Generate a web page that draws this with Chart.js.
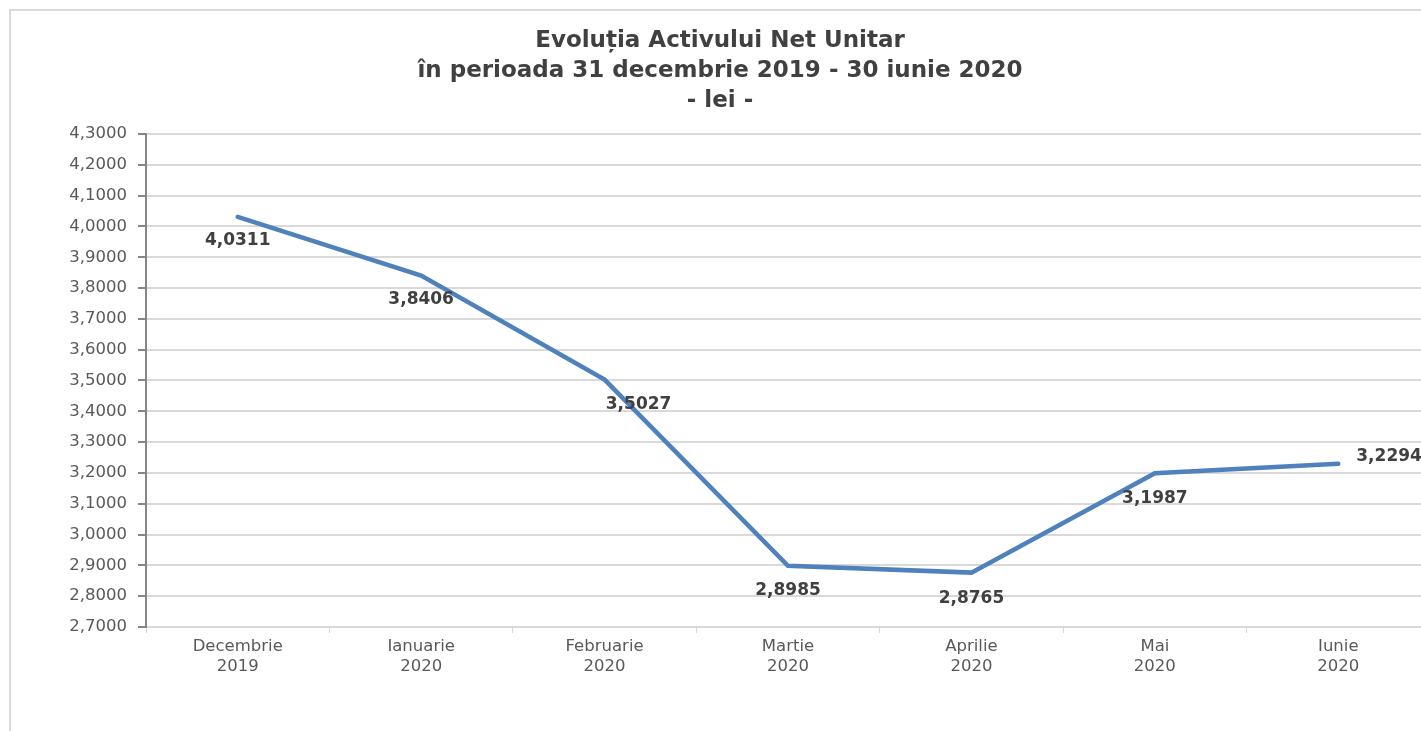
<!DOCTYPE html>
<html>
<head>
<meta charset="utf-8">
<script src="https://cdn.jsdelivr.net/npm/chart.js@4.4.1/dist/chart.umd.min.js"></script>
<style>
  html, body { margin: 0; padding: 0; background: #fff; overflow: hidden; }
  #wrap { position: relative; width: 1421px; height: 731px; overflow: hidden; }
  #frame { position: absolute; left: 9px; top: 9px; width: 1440px; height: 760px; border: 2px solid #d9d9d9; box-sizing: border-box; }
  canvas { position: absolute; left: 0; top: 0; }
</style>
</head>
<body>
<div id="wrap">
  <div id="frame"></div>
  <canvas id="myChart" width="1435" height="731"></canvas>
</div>
<script>
const categories = [
  ["Decembrie", "2019"],
  ["Ianuarie", "2020"],
  ["Februarie", "2020"],
  ["Martie", "2020"],
  ["Aprilie", "2020"],
  ["Mai", "2020"],
  ["Iunie", "2020"]
];
const activNet = [4.0311, 3.8406, 3.5027, 2.8985, 2.8765, 3.1987, 3.2294];
const titleLines = ["Evoluția Activului Net Unitar", "în perioada 31 decembrie 2019 - 30 iunie 2020", "- lei -"];
const yMin = 2.7, yMax = 4.3, yStep = 0.1;

// label placement per point: [dx, dy, align]
const labelOffsets = [
  [0, 24, 'center'],
  [0, 24, 'center'],
  [34, 25, 'center'],
  [0, 25, 'center'],
  [0, 26, 'center'],
  [0, 25, 'center'],
  [18, -7, 'left']
];

const fmt = v => v.toFixed(4).replace('.', ',');

const valueLabels = {
  id: 'valueLabels',
  afterDatasetsDraw(chart) {
    const ctx = chart.ctx;
    const meta = chart.getDatasetMeta(0);
    ctx.save();
    ctx.font = 'bold 17px "DejaVu Sans"';
    ctx.fillStyle = '#404040';
    ctx.textBaseline = 'middle';
    meta.data.forEach((pt, i) => {
      const o = labelOffsets[i];
      ctx.textAlign = o[2];
      ctx.fillText(fmt(activNet[i]), pt.x + o[0], pt.y + o[1]);
    });
    ctx.restore();
  }
};

const ctx = document.getElementById('myChart').getContext('2d');
const myChart = new Chart(ctx, {
  type: 'line',
  data: {
    labels: categories,
    datasets: [{
      data: activNet,
      borderColor: '#4f81bd',
      backgroundColor: '#4f81bd',
      borderWidth: 4.5,
      pointRadius: 0,
      tension: 0,
      borderCapStyle: 'round'
    }]
  },
  options: {
    responsive: false,
    animation: false,
    devicePixelRatio: 1,
    layout: { padding: { left: 10, right: 5, top: 0, bottom: 0 } },
    plugins: {
      legend: { display: false },
      tooltip: { enabled: false },
      title: {
        display: true,
        text: titleLines,
        color: '#404040',
        font: { family: '"DejaVu Sans"', size: 23, weight: 'bold', lineHeight: 1.304 },
        padding: { top: 26, bottom: 18 }
      }
    },
    scales: {
      x: {
        offset: true,
        grid: {
          offset: true,
          drawOnChartArea: false,
          drawTicks: true,
          tickLength: 6,
          tickColor: '#d9d9d9'
        },
        border: { color: '#d9d9d9', width: 2 },
        ticks: {
          color: '#595959',
          font: { family: '"DejaVu Sans"', size: 16.5, lineHeight: 1.2 },
          padding: 4,
          maxRotation: 0,
          autoSkip: false
        },
        afterFit(scale) { scale.height = 104; }
      },
      y: {
        min: yMin,
        max: yMax,
        grid: {
          color: '#d9d9d9',
          lineWidth: 2,
          tickLength: 8,
          tickColor: '#868686'
        },
        border: { color: '#868686', width: 2 },
        ticks: {
          stepSize: yStep,
          color: '#595959',
          font: { family: '"DejaVu Sans"', size: 16.5 },
          padding: 11,
          callback: v => fmt(v)
        },
        afterFit(scale) { scale.width = 136; }
      }
    }
  },
  plugins: [valueLabels]
});
</script>
</body>
</html>
